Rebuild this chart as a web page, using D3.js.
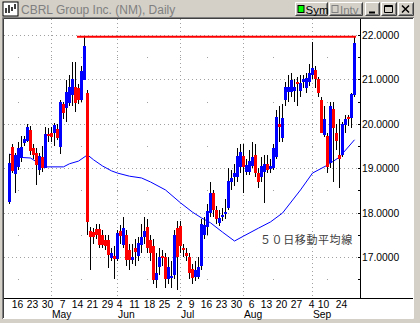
<!DOCTYPE html>
<html>
<head>
<meta charset="utf-8">
<script src="https://cdn.jsdelivr.net/npm/d3@7"></script>
<style>
  body { margin: 0; background: #d4d0c8; }
  svg { display: block; font-family: Arial, "Liberation Sans", sans-serif; }
</style>
</head>
<body>
<svg id="chart" width="420" height="323"></svg>
<script>
// trading calendar (2001), market closed on these days
const firstDay = '2001-04-10'
const lastDay = '2001-09-28'
const holidays = ['2001-04-13', '2001-05-28', '2001-07-04', '2001-09-03', '2001-09-11', '2001-09-12', '2001-09-13', '2001-09-14']

// daily prices
const opens = [18.24, 19.48, 18.87, 19.03, 19.23, 19.57, 19.62, 19.86, 19.45, 19.34, 18.96, 19.25, 19.0, 19.78, 19.8, 19.8, 19.88, 19.48, 20.45, 20.36,
  20.47, 20.64, 20.83, 20.8, 20.54, 20.99, 20.7, 17.58, 17.56, 17.63, 17.63, 17.5, 17.38, 17.38, 16.98, 17.02, 16.96, 17.58, 17.27, 17.5,
  17.16, 16.93, 17.2, 17.02, 17.27, 17.45, 17.67, 17.38, 17.25, 16.48, 16.77, 17.02, 17.0, 16.5, 16.55, 16.6, 17.65, 17.7, 17.2, 17.1,
  17.0, 16.73, 16.55, 16.55, 16.8, 17.5, 17.68, 18.0, 18.44, 18.06, 17.77, 17.9, 17.97, 18.1, 18.7, 18.8, 18.8, 19.03, 19.27, 18.92,
  18.92, 19.05, 19.3, 18.89, 18.8, 18.92, 19.1, 18.98, 19.0, 19.25, 20.0, 19.68, 20.54, 20.72, 20.72, 20.74, 20.94, 20.74, 20.94, 20.8,
  20.94, 21.1, 21.21, 21.0, 20.54, 19.75, 19.72, 19.12, 20.33, 19.8, 19.3, 19.3, 19.97, 20.15, 20.13, 20.65]
const highs = [19.32, 19.55, 19.35, 19.6, 19.72, 19.72, 20.0, 19.95, 19.55, 19.45, 19.35, 19.5, 19.93, 19.9, 19.93, 20.02, 20.0, 20.54, 20.5, 20.99,
  21.1, 21.39, 21.4, 20.9, 21.3, 21.95, 20.76, 17.67, 17.65, 17.75, 17.75, 17.6, 17.5, 17.5, 17.2, 17.25, 17.6, 17.72, 17.9, 17.6,
  17.3, 17.3, 17.4, 17.45, 17.75, 17.9, 17.85, 17.5, 17.4, 17.1, 17.2, 17.15, 17.1, 17.0, 16.9, 17.6, 17.8, 17.8, 17.3, 17.2,
  17.1, 16.85, 16.9, 17.0, 17.85, 17.9, 18.2, 18.7, 18.5, 18.15, 18.05, 18.1, 18.3, 19.0, 18.95, 19.1, 19.45, 19.55, 19.55, 19.2,
  19.4, 19.6, 19.55, 19.0, 19.25, 19.3, 19.3, 19.2, 19.55, 20.3, 20.4, 20.45, 20.95, 21.1, 21.15, 21.0, 21.05, 21.1, 21.1, 21.15,
  21.35, 21.85, 21.3, 21.05, 20.6, 20.4, 19.8, 20.5, 20.5, 20.0, 20.1, 20.05, 20.2, 20.2, 20.7, 21.96]
const lows = [18.2, 18.9, 18.44, 18.95, 19.15, 19.5, 19.6, 19.3, 19.2, 18.62, 18.85, 18.92, 19.0, 19.6, 19.59, 19.5, 19.63, 19.32, 20.1, 20.04,
  20.4, 20.4, 20.27, 20.45, 20.5, 20.99, 17.5, 16.7, 17.3, 17.4, 17.2, 17.2, 17.15, 16.75, 16.9, 16.5, 16.9, 17.3, 17.2, 16.8,
  16.7, 16.85, 16.8, 16.9, 17.1, 17.3, 17.1, 16.9, 16.4, 16.3, 16.6, 16.8, 16.3, 16.4, 16.3, 16.5, 16.26, 17.1, 17.0, 16.9,
  16.5, 16.4, 16.45, 16.5, 16.7, 17.4, 17.5, 17.9, 17.9, 17.75, 17.7, 17.8, 17.85, 18.05, 18.5, 18.6, 18.7, 18.9, 18.44, 18.85,
  18.85, 19.0, 18.8, 18.55, 18.7, 18.22, 18.9, 18.9, 18.95, 19.2, 19.6, 19.6, 20.4, 20.5, 20.6, 20.5, 20.4, 20.6, 20.8, 20.7,
  20.85, 21.0, 20.8, 20.6, 19.8, 19.7, 18.9, 19.0, 18.7, 19.4, 18.55, 19.25, 19.8, 19.95, 19.9, 20.6]
const closes = [19.12, 18.94, 19.3, 19.45, 19.48, 19.66, 19.93, 19.39, 19.3, 19.07, 19.28, 19.0, 19.77, 19.74, 19.7, 19.97, 19.68, 20.49, 20.24, 20.72,
  20.83, 21.0, 20.47, 20.54, 21.19, 21.75, 17.79, 17.45, 17.45, 17.5, 17.27, 17.27, 17.25, 17.05, 17.09, 16.96, 17.54, 17.47, 17.65, 16.93,
  16.93, 17.0, 17.11, 17.32, 17.45, 17.58, 17.2, 17.09, 16.48, 16.64, 17.0, 17.0, 16.5, 16.77, 16.58, 17.5, 17.0, 17.25, 17.18, 17.02,
  16.64, 16.53, 16.71, 16.77, 17.74, 17.72, 18.04, 18.44, 18.06, 17.86, 17.88, 17.95, 18.01, 18.71, 18.78, 18.9, 19.27, 19.36, 19.03, 19.07,
  19.16, 19.25, 18.89, 18.69, 19.05, 19.1, 18.96, 19.05, 19.45, 20.15, 19.93, 20.13, 20.83, 20.83, 20.99, 20.83, 20.9, 20.92, 21.0, 21.03,
  21.15, 21.26, 21.0, 20.7, 19.8, 20.11, 19.03, 20.4, 19.9, 19.61, 19.2, 20.0, 20.11, 20.11, 20.67, 21.82]

// 50-day moving average, read at these trading days
const maDay = [0, 2, 7, 10, 12, 18, 20, 23, 26, 28, 31, 34, 36, 40, 44, 47, 52, 57, 61, 64, 67, 71, 75, 78, 83, 87, 91, 97, 101, 106, 110, 115]
const maValue = [19.32, 19.25, 19.23, 19.1, 19.03, 19.03, 19.1, 19.16, 19.3, 19.19, 19.05, 18.94, 18.89, 18.82, 18.78, 18.69, 18.51, 18.22, 18.01, 17.88,
  17.77, 17.56, 17.36, 17.47, 17.65, 17.79, 17.99, 18.51, 18.89, 19.07, 19.25, 19.64]

const resistanceLevel = 21.96
const resistanceFrom = 23

const priceTicks = [17, 18, 19, 20, 21, 22]
const weekTicks = ['2001-04-16', '2001-04-23', '2001-04-30', '2001-05-07', '2001-05-14', '2001-05-21', '2001-05-29', '2001-06-04',
  '2001-06-11', '2001-06-18', '2001-06-25', '2001-07-02', '2001-07-09', '2001-07-16', '2001-07-23', '2001-07-30', '2001-08-06',
  '2001-08-13', '2001-08-20', '2001-08-27', '2001-09-04', '2001-09-10', '2001-09-24']
const months = ['May', 'Jun', 'Jul', 'Aug', 'Sep']

const title = 'CBRL Group Inc. (NM), Daily'
const maLabel = '５０日移動平均線'

const parse = d3.timeParse('%Y-%m-%d')
const fmt = d3.timeFormat('%Y-%m-%d')
const closed = new Set(holidays)
const days = d3.timeDay.range(parse(firstDay), d3.timeDay.offset(parse(lastDay), 1))
  .filter((d) => d.getDay() > 0 && d.getDay() < 6 && !closed.has(fmt(d)))
const dayIndex = new Map(days.map((d, i) => [fmt(d), i]))

const svg = d3.select('#chart')

// window frame
const panel = { left: 4, top: 19, right: 413, bottom: 318 }
const plot = { left: 4, top: 19, right: 360, bottom: 298 }

svg.append('rect').attr('width', 420).attr('height', 323).attr('fill', '#d4d0c8')
svg.append('rect')
  .attr('x', panel.left).attr('y', panel.top)
  .attr('width', panel.right - panel.left).attr('height', panel.bottom - panel.top)
  .attr('fill', '#fff')
svg.append('path')
  .attr('d', `M${panel.left - 0.5},${panel.bottom}V${panel.top - 0.5}H${panel.right}`)
  .attr('stroke', '#404040').attr('fill', 'none')
svg.append('path')
  .attr('d', `M${panel.left - 1.5},${panel.bottom + 1}V${panel.top - 1.5}H${panel.right + 1}`)
  .attr('stroke', '#808080').attr('fill', 'none')
svg.append('path')
  .attr('d', `M${panel.left - 1},${panel.bottom + 0.5}H${panel.right + 0.5}V${panel.top - 1}`)
  .attr('stroke', '#fff').attr('fill', 'none')

// title bar
const bar = svg.append('g')
bar.append('rect').attr('x', 3).attr('y', 2).attr('width', 15).attr('height', 14).attr('fill', '#fff').attr('stroke', '#000')
bar.append('path').attr('d', 'M6,13V8M9,13V5M12,11V7M15,9V4').attr('stroke', '#000').attr('stroke-width', 1.5)
bar.append('text').attr('x', 21).attr('y', 13.5).attr('font-size', 12).attr('fill', '#808080').text(title)

const button = (x, w) => {
  const g = bar.append('g').attr('transform', `translate(${x},2)`)
  g.append('rect').attr('width', w).attr('height', 14).attr('fill', '#d4d0c8')
  g.append('path').attr('d', `M0.5,13.5V0.5H${w - 0.5}`).attr('stroke', '#fff').attr('fill', 'none')
  g.append('path').attr('d', `M0.5,13.5H${w - 0.5}V0.5`).attr('stroke', '#404040').attr('fill', 'none')
  g.append('path').attr('d', `M1.5,12.5H${w - 1.5}V1.5`).attr('stroke', '#808080').attr('fill', 'none')
  return g
}
const sym = button(295, 33)
sym.append('rect').attr('x', 3).attr('y', 3.5).attr('width', 6).attr('height', 7).attr('fill', '#00ff00').attr('stroke', '#000')
sym.append('text').attr('x', 10.5).attr('y', 11.5).attr('font-size', 11.5).attr('fill', '#000').text('Sym')
const intv = button(329, 34)
intv.append('rect').attr('x', 3).attr('y', 3.5).attr('width', 6).attr('height', 7).attr('fill', '#d4d0c8').attr('stroke', '#808080')
intv.append('text').attr('x', 11).attr('y', 11.5).attr('font-size', 11.5).attr('fill', '#808080').text('Intv')
button(365, 15).append('path').attr('d', 'M4,10.5H10').attr('stroke', '#000').attr('stroke-width', 2)
button(381, 16).append('path').attr('d', 'M3.5,3.5H11.5V10.5H3.5ZM3.5,4.5H11.5').attr('stroke', '#000').attr('fill', 'none')
button(398, 16).append('path').attr('d', 'M4,3.5L11,10.5M11,3.5L4,10.5').attr('stroke', '#000').attr('stroke-width', 1.5)

// scales
const x = d3.scaleLinear().domain([0, days.length - 1]).range([9, 9 + 3 * (days.length - 1)])
const y = d3.scaleLinear().domain([17, 22]).range([257, 35])

const monthStart = months.map((m) => days.findIndex((d) => d3.timeFormat('%b')(d) === m))
const midMonth = months.concat(['Apr']).map((m) => days.findIndex((d) => d3.timeFormat('%b')(d) === m && d.getDate() >= 15))

// grid
const grid = svg.append('g')
priceTicks.forEach((p) => {
  grid.append('line')
    .attr('x1', plot.left).attr('x2', plot.right)
    .attr('y1', Math.round(y(p)) + 0.5).attr('y2', Math.round(y(p)) + 0.5)
    .attr('stroke', '#a0a0a0').attr('stroke-dasharray', '1,3')
})
monthStart.forEach((i) => {
  grid.append('line')
    .attr('x1', x(i) + 0.5).attr('x2', x(i) + 0.5)
    .attr('y1', plot.top).attr('y2', plot.bottom)
    .attr('stroke', '#a0a0a0').attr('stroke-dasharray', '1,3')
})
const halfTicks = d3.range(16.5, 22.5, 1)
monthStart.concat(midMonth).forEach((i) => {
  halfTicks.forEach((p) => {
    grid.append('rect').attr('x', x(i)).attr('y', Math.round(y(p))).attr('width', 1).attr('height', 1).attr('fill', '#a0a0a0')
  })
})

// moving average
const maLine = d3.line().x((d) => x(d[0]) + 0.5).y((d) => y(d[1]))
svg.append('path')
  .datum(maDay.map((d, i) => [d, maValue[i]]))
  .attr('d', maLine)
  .attr('fill', 'none').attr('stroke', '#0000ff').attr('stroke-width', 1)

// candles
const candles = svg.append('g')
days.forEach((d, i) => {
  const o = opens[i], h = highs[i], l = lows[i], c = closes[i]
  const cx = x(i)
  candles.append('rect')
    .attr('x', cx).attr('y', Math.round(y(h)))
    .attr('width', 1).attr('height', Math.max(1, Math.round(y(l)) - Math.round(y(h))))
    .attr('fill', '#000')
  const top = Math.round(y(Math.max(o, c)))
  const bot = Math.round(y(Math.min(o, c)))
  candles.append('rect')
    .attr('x', cx - 1).attr('y', top)
    .attr('width', 3).attr('height', Math.max(2, bot - top))
    .attr('fill', c >= o ? '#0000ff' : '#ff0000')
})

// resistance line
svg.append('line')
  .attr('x1', x(resistanceFrom) - 1).attr('x2', x(days.length - 1) + 2)
  .attr('y1', y(resistanceLevel)).attr('y2', y(resistanceLevel))
  .attr('stroke', '#ff0000').attr('stroke-width', 2)

svg.append('text')
  .attr('x', 260).attr('y', 244)
  .attr('font-family', '"Noto Sans CJK JP", sans-serif')
  .attr('font-size', 11).attr('letter-spacing', 0.6)
  .attr('fill', '#404040')
  .text(maLabel)

// axes
svg.append('line').attr('x1', plot.right + 0.5).attr('x2', plot.right + 0.5).attr('y1', plot.top).attr('y2', plot.bottom)
  .attr('stroke', '#000')
svg.append('line').attr('x1', panel.left).attr('x2', panel.right).attr('y1', plot.bottom + 0.5).attr('y2', plot.bottom + 0.5)
  .attr('stroke', '#000')

const yAxis = svg.append('g')
d3.range(16.5, 22.5, 0.5).forEach((p) => {
  yAxis.append('line').attr('x1', plot.right - 2).attr('x2', plot.right + 1)
    .attr('y1', Math.round(y(p)) + 0.5).attr('y2', Math.round(y(p)) + 0.5).attr('stroke', '#000')
})
yAxis.selectAll('text').data(priceTicks).join('text')
  .attr('x', plot.right + 2).attr('y', (d) => y(d) + 4)
  .attr('font-size', 10.3).attr('fill', '#000')
  .text(d3.format('.4f'))

const xAxis = svg.append('g')
xAxis.selectAll('text.day').data(weekTicks).join('text')
  .attr('class', 'day')
  .attr('x', (d) => x(dayIndex.get(d)) - 0.5).attr('y', 308)
  .attr('text-anchor', 'middle').attr('font-size', 10.3).attr('fill', '#000')
  .text((d) => parse(d).getDate())
xAxis.selectAll('text.month').data(months).join('text')
  .attr('class', 'month')
  .attr('x', (d, i) => x(monthStart[i]) + 1).attr('y', 317.5)
  .attr('font-size', 10.3).attr('fill', '#000')
  .text((d) => d)
</script>
</body>
</html>
